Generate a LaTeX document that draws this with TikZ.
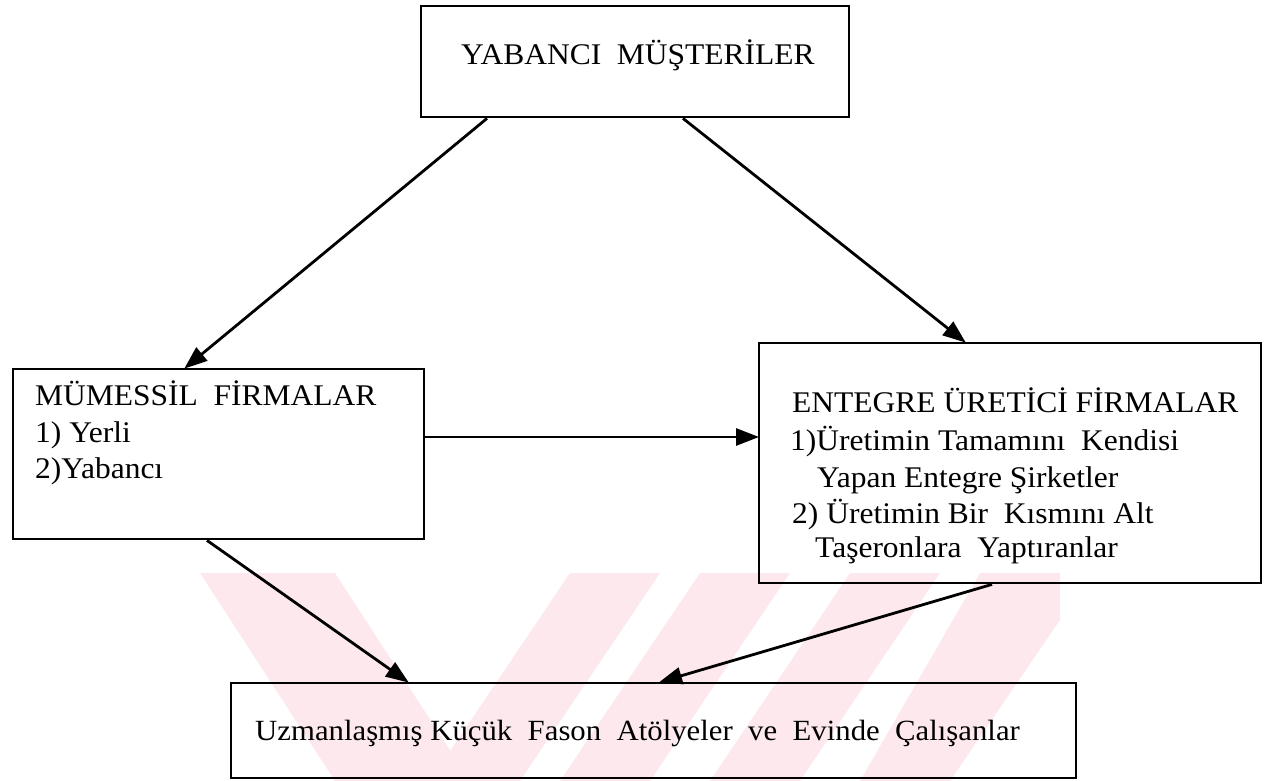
\documentclass[tikz,border=0pt]{standalone}
\usepackage{fontspec}
\setmainfont[FakeStretch=1.05]{Liberation Serif}
\usetikzlibrary{arrows.meta,calc}
\definecolor{wm}{RGB}{253,233,237}
\tikzset{
  box/.style={draw, line width=2.4pt, anchor=north west, inner sep=0pt},
  txt/.style={anchor=base west, inner sep=0pt, font=\fontsize{30}{36}\selectfont},
  arr/.style={line width=2.8pt, -{Triangle[length=23pt,width=17pt]}, shorten >=-1pt},
  wmark/.style={fill=wm, draw=none}
}
\begin{document}
\begin{tikzpicture}[x=1pt,y=-1pt]
\useasboundingbox (0,0) rectangle (1264,781);
\fill[white] (0,0) rectangle (1264,781);
% watermark
\fill[wmark] (200,573) -- (335,573) -- (470,781) -- (335,781) -- cycle;
\fill[wmark] (570,573) -- (660,573) -- (520,781) -- (430,781) -- cycle;
\fill[wmark] (700,573) -- (790,573) -- (650,781) -- (560,781) -- cycle;
\fill[wmark] (850,573) -- (940,573) -- (800,781) -- (710,781) -- cycle;
\fill[wmark] (980,573) -- (1060,573) -- (1060,620) -- (950,781) -- (860,781) -- cycle;
% boxes
\node[box, minimum width=428pt, minimum height=111pt] (top) at (420,5) {};
\node[box, minimum width=411pt, minimum height=170pt] (mum) at (12,368) {};
\node[box, minimum width=502pt, minimum height=240pt] (ent) at (758,342) {};
\node[box, minimum width=845pt, minimum height=95pt] (uzm) at (230,682) {};
% texts
\node[txt, anchor=base] (ttop) at (638,65) {YABANCI\ \ MÜŞTERİLER};
\node[txt] (m1) at (35,405) {MÜMESSİL\ \ FİRMALAR};
\node[txt] (m2) at (35,442) {1) Yerli};
\node[txt] (m3) at (35,478) {2)Yabancı};
\node[txt] (e1) at (792,412) {ENTEGRE ÜRETİCİ FİRMALAR};
\node[txt] (e2) at (790,450) {1)Üretimin Tamamını\ \ Kendisi};
\node[txt] (e3) at (817,487) {Yapan Entegre Şirketler};
\node[txt] (e4) at (792,523) {2) Üretimin Bir\ \ Kısmını Alt};
\node[txt] (e5) at (815,557) {Taşeronlara\ \ Yaptıranlar};
\node[txt, font=\fontsize{29.3}{36}\selectfont] (u1) at (255,740) {Uzmanlaşmış Küçük\ \ Fason\ \ Atölyeler\ \ ve\ \ Evinde\ \ Çalışanlar};
% connectors
\draw[arr] ($(top.south west)+(67,0)$) -- ($(mum.north west)+(173,0)$);
\draw[arr] ($(top.south west)+(263,0)$) -- ($(ent.north west)+(207,0)$);
\draw[arr] ($(mum.north east)+(0,69)$) -- ($(ent.north west)+(0,95)$);
\draw[arr] ($(mum.south west)+(195,0)$) -- ($(uzm.north west)+(178,0)$);
\draw[arr] ($(ent.south west)+(234,0)$) -- ($(uzm.north west)+(430,0)$);
\end{tikzpicture}
\end{document}
